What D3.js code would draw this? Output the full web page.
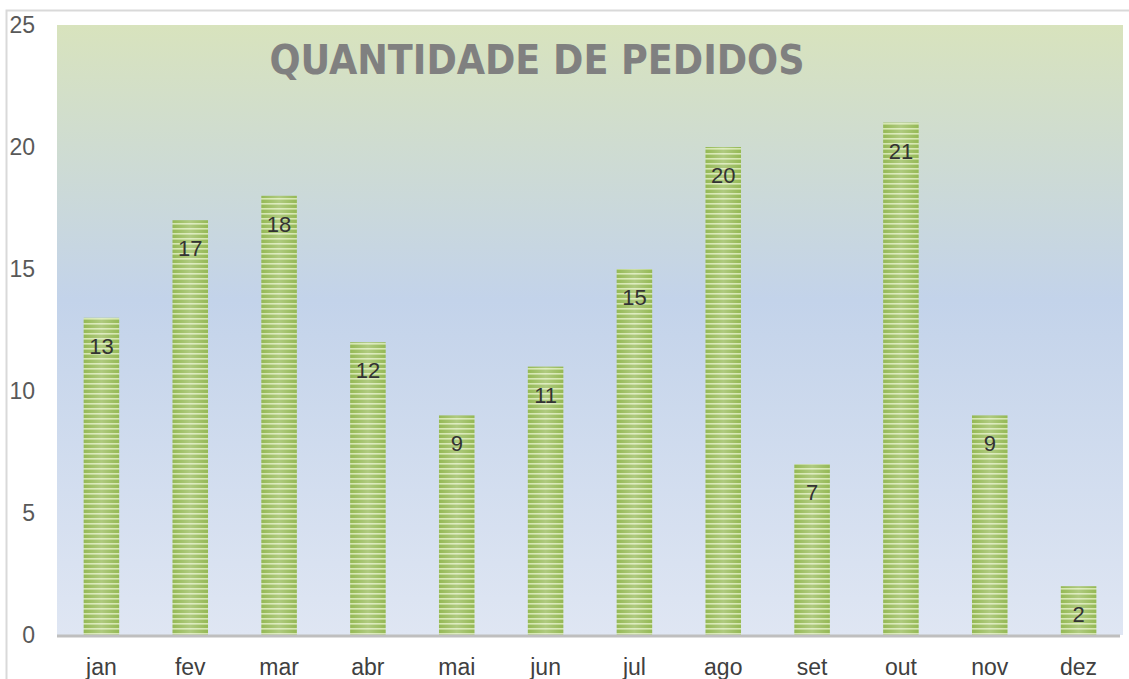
<!DOCTYPE html>
<html>
<head>
<meta charset="utf-8">
<script src="https://cdn.jsdelivr.net/npm/d3@7"></script>
<style>
  body { margin: 0; background: #fff; }
  svg { display: block; }
</style>
</head>
<body>
<div id="chart"></div>
<script>
const months = ["jan", "fev", "mar", "abr", "mai", "jun", "jul", "ago", "set", "out", "nov", "dez"];
const pedidos = [13, 17, 18, 12, 9, 11, 15, 20, 7, 21, 9, 2];
const yTicks = [0, 5, 10, 15, 20, 25];
const chartTitle = "QUANTIDADE DE PEDIDOS";

const width = 1129, height = 679;
const margin = { top: 25, right: 6, bottom: 44, left: 57 };

const svg = d3.select("#chart").append("svg").attr("width", width).attr("height", height);
const defs = svg.append("defs");

// plot background gradient
const bg = defs.append("linearGradient").attr("id", "bg").attr("x1", 0).attr("x2", 0).attr("y1", 0).attr("y2", 1);
bg.append("stop").attr("offset", "0%").attr("stop-color", "#d8e3bd");
bg.append("stop").attr("offset", "45%").attr("stop-color", "#c3d3ea");
bg.append("stop").attr("offset", "100%").attr("stop-color", "#dfe6f3");

// striped bar fill
const stripe = defs.append("pattern").attr("id", "stripes").attr("patternUnits", "userSpaceOnUse")
    .attr("width", 8).attr("height", 5);
stripe.append("rect").attr("width", 8).attr("height", 5).attr("fill", "#95b955");
stripe.append("rect").attr("y", 3).attr("width", 8).attr("height", 1.6).attr("fill", "#d4e6ae");

const shine = defs.append("linearGradient").attr("id", "shine").attr("x1", 0).attr("x2", 1).attr("y1", 0).attr("y2", 0);
shine.append("stop").attr("offset", "0%").attr("stop-color", "#ffffff").attr("stop-opacity", 0);
shine.append("stop").attr("offset", "50%").attr("stop-color", "#ffffff").attr("stop-opacity", 0.25);
shine.append("stop").attr("offset", "100%").attr("stop-color", "#ffffff").attr("stop-opacity", 0);

// outer frame
svg.append("path").attr("d", `M6.5,${height} V10.5 H${width}`)
    .attr("fill", "none").attr("stroke", "#d9d9d9").attr("stroke-width", 2);

const x = d3.scaleBand().domain(months).range([margin.left, width - margin.right])
    .paddingInner(0.6).paddingOuter(0.3);
const y = d3.scaleLinear().domain([0, 25]).range([height - margin.bottom, margin.top]);

svg.append("rect")
    .attr("x", margin.left).attr("y", margin.top)
    .attr("width", width - margin.right - margin.left)
    .attr("height", y(0) - margin.top)
    .attr("fill", "url(#bg)");

// title
svg.append("text")
    .attr("x", 537).attr("y", 74)
    .attr("text-anchor", "middle")
    .attr("font-family", "'DejaVu Sans Condensed', 'DejaVu Sans', sans-serif")
    .attr("font-weight", "bold")
    .attr("font-size", 41)
    .attr("fill", "#808080")
    .attr("textLength", 535)
    .attr("lengthAdjust", "spacingAndGlyphs")
    .text(chartTitle);

// bars
const bars = svg.append("g").selectAll("g").data(pedidos).join("g");
bars.append("rect")
    .attr("x", (d, i) => x(months[i]))
    .attr("y", d => y(d))
    .attr("width", x.bandwidth())
    .attr("height", d => y(0) - y(d))
    .attr("fill", "url(#stripes)");
bars.append("rect")
    .attr("x", (d, i) => x(months[i]))
    .attr("y", d => y(d))
    .attr("width", x.bandwidth())
    .attr("height", d => y(0) - y(d))
    .attr("fill", "url(#shine)");
bars.append("text")
    .attr("x", (d, i) => x(months[i]) + x.bandwidth() / 2)
    .attr("y", d => y(d) + 36)
    .attr("text-anchor", "middle")
    .attr("font-family", "'Liberation Sans', Arial, sans-serif")
    .attr("font-size", 22)
    .attr("fill", "#333333")
    .text(d => d);

// baseline
svg.append("line")
    .attr("x1", margin.left).attr("x2", width - margin.right - 3)
    .attr("y1", y(0) + 1).attr("y2", y(0) + 1)
    .attr("stroke", "#bfbfbf").attr("stroke-width", 3);

// y axis
const yAxis = svg.append("g").attr("transform", "translate(35,0)")
    .call(d3.axisLeft(y).tickValues(yTicks).tickSize(0).tickPadding(0));
yAxis.select(".domain").remove();
yAxis.selectAll("text")
    .attr("font-family", "'Liberation Sans', Arial, sans-serif")
    .attr("font-size", 23)
    .attr("fill", "#595959");

// x axis
const xAxis = svg.append("g").attr("transform", `translate(0,${y(0)})`)
    .call(d3.axisBottom(x).tickSize(0).tickPadding(24));
xAxis.select(".domain").remove();
xAxis.selectAll("text")
    .attr("font-family", "'Liberation Sans', Arial, sans-serif")
    .attr("font-size", 23)
    .attr("fill", "#404040");
</script>
</body>
</html>
